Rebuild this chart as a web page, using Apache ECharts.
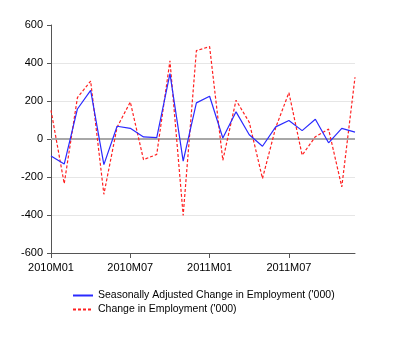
<!DOCTYPE html>
<html><head><meta charset="utf-8">
<script src="https://cdn.jsdelivr.net/npm/echarts@6/dist/echarts.min.js"></script>
<style>html,body{margin:0;padding:0;background:#fff}#c{width:400px;height:338px}</style>
</head><body><div id="c"></div>
<script>
var categories = ['2010M01','2010M02','2010M03','2010M04','2010M05','2010M06','2010M07','2010M08','2010M09','2010M10','2010M11','2010M12',
  '2011M01','2011M02','2011M03','2011M04','2011M05','2011M06','2011M07','2011M08','2011M09','2011M10','2011M11','2011M12'];
var seasonallyAdjusted = [-89,-132,158,256,-135,67,56,11,7,344,-116,190,225,5,143,22,-38,64,97,44,104,-20,56,36];
var changeInEmployment = [151,-235,218,305,-291,62,195,-109,-81,411,-402,465,486,-112,204,88,-208,60,244,-85,12,52,-252,325];
var yTicks = [-600,-400,-200,0,200,400,600];
var seriesNames = ["Seasonally Adjusted Change in Employment ('000)", "Change in Employment ('000)"];

var chart = echarts.init(document.getElementById('c'), null, {renderer:'canvas'});
var font = 'Liberation Sans, Arial, sans-serif';
chart.setOption({
  animation:false,
  textStyle:{fontFamily:font},
  grid:{left:51,right:45,top:25,bottom:85,containLabel:false},
  legend:{
    orient:'vertical', left:67, top:285, itemWidth:20, itemHeight:8, itemGap:3,
    itemStyle:{opacity:0},
    textStyle:{fontSize:10.5,color:'#000',fontFamily:font},
    data:seriesNames
  },
  xAxis:{
    type:'category', data:categories, boundaryGap:false,
    axisLine:{onZero:false,lineStyle:{color:'#555',width:1}},
    axisTick:{interval:5,length:5,lineStyle:{color:'#555'}},
    axisLabel:{interval:5,color:'#000',fontSize:11,margin:9,fontFamily:font},
    splitLine:{show:false}
  },
  yAxis:{
    type:'value', min:yTicks[0], max:yTicks[yTicks.length-1], interval:200,
    axisLine:{show:true,lineStyle:{color:'#555',width:1}},
    axisTick:{show:true,length:4,lineStyle:{color:'#555'}},
    axisLabel:{color:'#000',fontSize:11,margin:8,fontFamily:font},
    splitLine:{show:true,lineStyle:{color:['rgba(0,0,0,0)','#e6e6e6','#e6e6e6','rgba(0,0,0,0)','#e6e6e6','#e6e6e6','rgba(0,0,0,0)'],width:1}}
  },
  series:[
    {name:seriesNames[0],type:'line',data:seasonallyAdjusted,symbol:'none',
     lineStyle:{color:'#2a2aff',width:1.2},itemStyle:{color:'#2a2aff'},z:3,
     markLine:{silent:true,symbol:'none',label:{show:false},
       lineStyle:{color:'#a8a8a8',width:2,type:'solid'},data:[{yAxis:0}],z:1}},
    {name:seriesNames[1],type:'line',data:changeInEmployment,symbol:'none',
     lineStyle:{color:'#ff2020',width:1.2,type:[3,2]},itemStyle:{color:'#ff2020'},z:2}
  ]
});
</script></body></html>
